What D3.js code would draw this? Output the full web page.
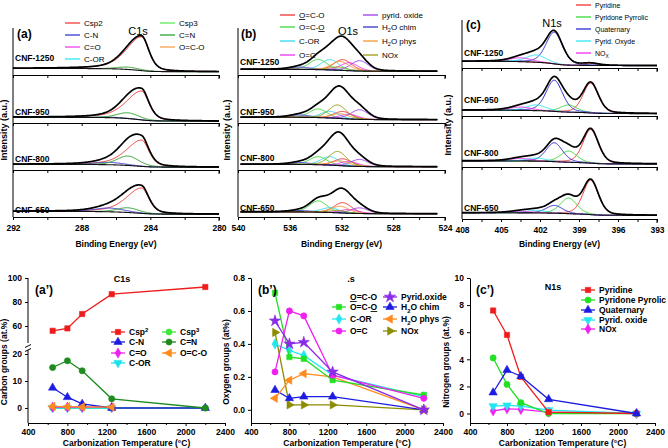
<!DOCTYPE html>
<html><head><meta charset="utf-8">
<script src="https://cdn.jsdelivr.net/npm/d3@7"></script>
<style>body{margin:0;background:#fff}svg{display:block}text{font-family:"Liberation Sans",Arial,sans-serif}</style>
</head><body><svg id="c" width="668" height="448"></svg>
<script>
// ================= DATA =================
const samples = ["CNF-1250", "CNF-950", "CNF-800", "CNF-650"];

// --- C1s spectra (peak parameters) ---
const c1sNames   = ["Csp2", "C-N", "C=O", "C-OR", "Csp3", "C=N", "O=C-O"];
const c1sColors  = ["#f23a3a", "#3838d0", "#f040f0", "#30e8f0", "#5ee85e", "#2f9f2f", "#f8a050"];
const c1sCenters = [284.5, 286.4, 287.8, 286.0, 285.2, 285.3, 289.0];
const c1sHwLow   = [0.5, 1.0, 0.8, 0.8, 0.8, 0.75, 0.8];
const c1sHwHigh  = [1.05, 1.0, 0.8, 0.8, 0.8, 0.75, 0.8];
const c1sMix     = [0.5, 0.3, 0.3, 0.3, 0.3, 0.3, 0.3];
const c1sHeights = [
  [0.72, 0.00, 0, 0, 0, 0.05, 0],
  [0.60, 0.01, 0, 0, 0, 0.12, 0],
  [0.56, 0.05, 0, 0, 0, 0.20, 0],
  [0.54, 0.08, 0, 0, 0, 0.10, 0]];
const c1sBg = [[0.14, 0.07], [0.12, 0.04], [0.12, 0.06], [0.12, 0.06]];
const c1sLabelTicks = [292, 288, 284, 280];

// --- O1s spectra ---
const o1sNames   = ["~O=C-O", "O=C-~O", "C-OR", "O=C", "pyrid. oxide", "H_2O chim", "H_2O phys", "NOx"];
const o1sColors  = ["#f03434", "#3ad83a", "#30d8f0", "#f030f0", "#9a3cf0", "#3434c8", "#f89a30", "#9a9a10"];
const o1sCenters = [531.9, 533.8, 532.9, 531.4, 530.6, 535.2, 532.1, 532.3];
const o1sHw      = [0.8, 0.8, 0.8, 0.8, 0.8, 0.9, 0.8, 0.8];
const o1sMix     = [0.2, 0.2, 0.2, 0.2, 0.2, 0.2, 0.2, 0.2];
const o1sHeights = [
  [0.23, 0.22, 0.22, 0.17, 0.22, 0.05, 0.19, 0.07],
  [0.15, 0.18, 0.14, 0.10, 0.20, 0.05, 0.10, 0.28],
  [0.15, 0.17, 0.18, 0.10, 0.15, 0.04, 0.10, 0.30],
  [0.22, 0.24, 0.10, 0.08, 0.12, 0.03, 0.14, 0.05]];
const o1sBg = [[0.12, 0.08], [0.12, 0.07], [0.12, 0.07], [0.11, 0.07]];
const o1sLabelTicks = [540, 536, 532, 528, 524];

// --- N1s spectra ---
const n1sNames   = ["Pyridine", "Pyridone Pyrrolic", "Quaternary", "Pyrid. Oxyde", "NO_X"];
const n1sColors  = ["#f03434", "#3ad83a", "#2a2ad0", "#30e8f0", "#f030f0"];
const n1sCenters = [398.1, 399.8, 400.9, 402.3, 403.5];
const n1sHw      = [0.7, 0.75, 0.75, 0.9, 1.0];
const n1sMix     = [0.3, 0.3, 0.3, 0.3, 0.3];
const n1sHeights = [
  [0.04, 0.00, 0.66, 0.15, 0.08],
  [0.62, 0.15, 0.65, 0.12, 0.07],
  [0.66, 0.22, 0.37, 0.06, 0.05],
  [0.66, 0.30, 0.15, 0.05, 0.03]];
const n1sBg = [[0.14, 0.05], [0.12, 0.05], [0.12, 0.06], [0.12, 0.07]];
const n1sLabelTicks = [408, 405, 402, 399, 396, 393];

// --- Composition vs temperature ---
const temps = [650, 800, 950, 1250, 2200];
const xTickLabels = [400, 800, 1200, 1600, 2000, 2400];

const cCsp2 = [56, 58, 70, 86.5, 92.5];
const cCsp3 = [0, 0, 0, 0, 0];
const cCN   = [7.5, 4, 1.5, 0, 0];
const cCdN  = [15, 17.5, 13.8, 3.4, 0];
const cCO   = [0.3, 0.3, 0.3, 0.3];
const cOCO  = [0.6, 0.5, 0.4, 0.3];
const cCOR  = [0, 0, 0, 0];

const oOCO2  = [0.71, 0.32, 0.31, 0.18, 0.09];
const oCOR   = [0.40, 0.36, 0.33, 0.21, 0.08];
const oOC    = [0.23, 0.60, 0.57, 0.21, 0.07];
const oPyr   = [0.54, 0.40, 0.41, 0.23, 0.0];
const oH2Oc  = [0.12, 0.07, 0.08, 0.08, 0.0];
const oH2Op  = [0.07, 0.18, 0.22, 0.20, 0.0];
const oNOx   = [0.47, 0.03, 0.03, 0.03, 0.0];

const nPyridine = [7.6, 5.8, 2.7, 0.1, 0.0];
const nPyridone = [4.1, 2.15, 0.8, 0.0, 0.0];
const nQuat     = [1.55, 3.2, 2.75, 1.05, 0.0];
const nPyrOx    = [0.55, 0.6, 0.55, 0.25, 0.0];
const nNOx      = [0.2, 0.35, 0.3, 0.1, 0.0];

// ================= DRAWING =================
const svg = d3.select("#c");
const BOLD = "bold";

function rich(sel, str, fs) {
  let i = 0, shift = 0;
  while (i < str.length) {
    let ch = str[i], mode = null;
    if ("_^~".includes(ch)) { mode = ch; ch = str[i + 1]; i += 2; }
    else { let j = i; while (j < str.length && !"_^~".includes(str[j])) j++; ch = str.slice(i, j); i = j; }
    const t = sel.append("tspan").text(ch);
    let dy = 0;
    if (mode === "_") { dy = fs * 0.3; t.attr("font-size", fs * 0.7); }
    else if (mode === "^") { dy = -fs * 0.4; t.attr("font-size", fs * 0.7); }
    if (mode === "~") t.style("text-decoration", "underline");
    t.attr("dy", dy - shift); shift = dy;
  }
}
function txt(x, y, str, fs, opts = {}) {
  const t = svg.append("text").attr("x", x).attr("y", y).attr("font-size", fs)
    .attr("font-weight", opts.w || "normal").attr("text-anchor", opts.a || "start").attr("fill", "#000");
  if (opts.rot) t.attr("transform", `rotate(-90,${x},${y})`);
  rich(t, str, fs);
  return t;
}

function pv(x, c, h, hwL, hwH, m) {
  const w = x > c ? hwH : hwL; const t = (x - c) / w;
  return h * (m / (1 + t * t) + (1 - m) * Math.exp(-Math.LN2 * t * t));
}

function drawSpectra(cfg) {
  const x = d3.scaleLinear().domain(cfg.dom).range([cfg.x0, cfg.x1]);
  const g = svg.append("g");
  const lo = Math.min(...cfg.range), hi = Math.max(...cfg.range);
  const E = d3.range(lo, hi + 1e-9, 0.04);
  const rows = cfg.rows;
  samples.forEach((s, i) => {
    const top = rows[i], bot = rows[i + 1], hp = bot - top;
    const yv = v => bot - v * hp;
    const comps = cfg.names.map((n, k) => E.map(e => pv(e, cfg.centers[k], cfg.heights[i][k], cfg.hwL[k], cfg.hwH[k], cfg.mix[k])));
    const tot = E.map((e, j) => d3.sum(comps, c => c[j]));
    let acc = 0; const cum = tot.map(t => (acc += t));
    const bgv = E.map((e, j) => cfg.bg[i][1] + (cfg.bg[i][0] - cfg.bg[i][1]) * (cum[j] / acc));
    const line = d3.line().x((d, j) => x(E[j])).y(d => yv(d));
    comps.forEach((c, k) => {
      if (cfg.heights[i][k] <= 0) return;
      g.append("path").attr("d", line(c.map((v, j) => v + bgv[j]))).attr("fill", "none")
        .attr("stroke", cfg.colors[k]).attr("stroke-width", 1);
    });
    g.append("path").attr("d", line(bgv)).attr("fill", "none").attr("stroke", "#111").attr("stroke-width", 1.1);
    g.append("path").attr("d", line(tot.map((v, j) => v + bgv[j]))).attr("fill", "none")
      .attr("stroke", "#000").attr("stroke-width", 1.7);
    txt(cfg.x0 + 2, cfg.sampleY[i], s, 8.5, { w: BOLD });
  });
  // axes
  g.append("line").attr("x1", cfg.x0).attr("x2", cfg.x0).attr("y1", rows[0]).attr("y2", rows[4]).attr("stroke", "#000");
  for (let i = 1; i <= 4; i++) {
    const ax = d3.axisBottom(x).tickValues(cfg.ticks).tickSize(3).tickSizeOuter(0)
      .tickFormat(d => (i === 4 && cfg.labelTicks.includes(d)) ? d : "");
    const a = svg.append("g").attr("transform", `translate(0,${rows[i]})`).call(ax);
    a.selectAll("text").attr("font-size", 8.5).attr("font-weight", BOLD).attr("font-family", "Liberation Sans, Arial").attr("dy", "0.9em");
    a.append("line").attr("x1", cfg.x1).attr("x2", cfg.x1).attr("y1", 0).attr("y2", 4).attr("stroke", "#000");
  }
  txt((cfg.x0 + cfg.x1) / 2, 247, "Binding Energy (eV)", 8.5, { w: BOLD, a: "middle" });
  txt(cfg.ylabX, cfg.ylabY, "Intensity (a.u.)", 9, { w: BOLD, a: "middle", rot: true });
  txt(cfg.tagX, cfg.tagY, cfg.tag, 12, { w: BOLD });
  txt(cfg.titleX, cfg.titleY, cfg.title, 11, { a: "middle" });
  // legend
  cfg.names.forEach((n, k) => {
    const col = Math.floor(k / cfg.legRows), row = k % cfg.legRows;
    const lx = cfg.legX[col], ly = cfg.legY[row];
    svg.append("line").attr("x1", lx).attr("x2", lx + 15).attr("y1", ly).attr("y2", ly)
      .attr("stroke", cfg.colors[k]).attr("stroke-width", 1.3);
    txt(lx + 19, ly + 3, n, cfg.legFs);
  });
}

const rowsAB = [28, 75, 123, 170, 217];
drawSpectra({ x0: 13, x1: 219, dom: [292, 280], range: [292, 280], rows: rowsAB,
  names: c1sNames, colors: c1sColors, centers: c1sCenters, hwL: c1sHwLow, hwH: c1sHwHigh, mix: c1sMix,
  heights: c1sHeights, bg: c1sBg, ticks: d3.range(280, 292.01, 2), labelTicks: c1sLabelTicks,
  sampleY: [61, 115, 162, 213], ylabX: 7, ylabY: 130, tag: "(a)", tagX: 17, tagY: 38,
  title: "C1s", titleX: 138, titleY: 35, legRows: 4, legX: [65, 160], legY: [23, 35, 47, 59], legFs: 8 });

drawSpectra({ x0: 238, x1: 445, dom: [540, 524], range: [539.8, 524.6], rows: rowsAB,
  names: o1sNames, colors: o1sColors, centers: o1sCenters, hwL: o1sHw, hwH: o1sHw, mix: o1sMix,
  heights: o1sHeights, bg: o1sBg, ticks: d3.range(524, 540.01, 2), labelTicks: o1sLabelTicks,
  sampleY: [65, 115, 161, 211], ylabX: 230, ylabY: 130, tag: "(b)", tagX: 241, tagY: 38,
  title: "O1s", titleX: 348, titleY: 35, legRows: 4, legX: [280, 363], legY: [15, 27, 41, 55], legFs: 8 });

drawSpectra({ x0: 462, x1: 657, dom: [408, 393], range: [408, 393], rows: [20, 68, 116, 167, 219],
  names: n1sNames, colors: n1sColors, centers: n1sCenters, hwL: n1sHw, hwH: n1sHw, mix: n1sMix,
  heights: n1sHeights, bg: n1sBg, ticks: d3.range(393, 408.01, 1.5), labelTicks: n1sLabelTicks,
  sampleY: [56, 103, 156, 211], ylabX: 451, ylabY: 125, tag: "(c)", tagX: 466, tagY: 29,
  title: "N1s", titleX: 552, titleY: 27, legRows: 5, legX: [576], legY: [5, 17, 29, 41, 53], legFs: 7 });

// ---------- composition panels ----------
const SYM = {
  sq: { t: d3.symbolSquare, s: 28, r: 0 }, ci: { t: d3.symbolCircle, s: 30, r: 0 },
  tu: { t: d3.symbolTriangle, s: 30, r: 0 }, td: { t: d3.symbolTriangle, s: 30, r: 180 },
  tl: { t: d3.symbolTriangle, s: 30, r: -90 }, tr: { t: d3.symbolTriangle, s: 30, r: 90 },
  di: { t: d3.symbolDiamond, s: 30, r: 0 }, st: { t: d3.symbolStar, s: 40, r: 0 } };
function marker(g, cx, cy, sym, color) {
  const S = SYM[sym];
  g.append("path").attr("d", d3.symbol().type(S.t).size(S.s)())
    .attr("transform", `translate(${cx},${cy}) rotate(${S.r})`).attr("fill", color).attr("stroke", color).attr("stroke-width", 0.6);
}

function drawComp(cfg) {
  const x = d3.scaleLinear().domain([400, 2400]).range([cfg.x0, cfg.x1]);
  const g = svg.append("g");
  cfg.series.forEach(s => {
    const y = s.scale || cfg.y;
    const pts = s.vals.map((v, i) => [x(temps[i]), y(v)]);
    g.append("path").attr("d", d3.line()(pts)).attr("fill", "none").attr("stroke", s.color).attr("stroke-width", 1.3);
    pts.forEach(p => marker(g, p[0], p[1], s.sym, s.color));
  });
  // x axis
  const xa = svg.append("g").attr("transform", `translate(0,423)`)
    .call(d3.axisBottom(x).tickValues(xTickLabels).tickSize(3).tickSizeOuter(0).tickFormat(d3.format("d")));
  xa.selectAll("text").attr("font-size", 8.5).attr("font-weight", BOLD).attr("font-family", "Liberation Sans, Arial");
  svg.append("g").attr("transform", `translate(0,423)`)
    .call(d3.axisBottom(x).tickValues(d3.range(600, 2400, 400)).tickSize(2).tickFormat("")).select(".domain").remove();
  txt((cfg.x0 + cfg.x1) / 2, 446, "Carbonization Temperature (°C)", 8.5, { w: BOLD, a: "middle" });
  txt(cfg.ylabX, 362, cfg.ylab, 8.5, { w: BOLD, a: "middle", rot: true });
  txt(cfg.tagX, 294, cfg.tag, 12, { w: BOLD });
  txt(cfg.titleX, cfg.titleY, cfg.title, 9, { w: BOLD, a: "middle" });
  cfg.legend.forEach(L => {
    if (L.color) {
      svg.append("line").attr("x1", L.x).attr("x2", L.x + 14).attr("y1", L.y).attr("y2", L.y)
        .attr("stroke", L.color).attr("stroke-width", 1.3);
      marker(svg, L.x + 7, L.y, L.sym, L.color);
    }
    txt(L.x + 18, L.y + 3, L.name, 8.5, { w: BOLD });
  });
  return x;
}

// (a') with broken y-axis
const yLow = d3.scaleLinear().domain([0, 20]).range([408, 354]);
const yHigh = d3.scaleLinear().domain([60, 100]).range([326, 278]);
const colA = { red: "#ee1c1c", lg: "#3be83b", blue: "#1c1ce0", dg: "#1f8a1f", mag: "#ee22ee", org: "#ff8a1e", cyan: "#1ee0ee" };
const legA = [
  { name: "Csp^2", color: colA.red, sym: "sq", x: 111, y: 332 }, { name: "Csp^3", color: colA.lg, sym: "ci", x: 162, y: 332 },
  { name: "C-N", color: colA.blue, sym: "tu", x: 111, y: 342 }, { name: "C=N", color: colA.dg, sym: "ci", x: 162, y: 342 },
  { name: "C=O", color: colA.mag, sym: "di", x: 111, y: 353 }, { name: "O=C-O", color: colA.org, sym: "tl", x: 162, y: 353 },
  { name: "C-OR", color: colA.cyan, sym: "td", x: 111, y: 363 }];
drawComp({ x0: 28, x1: 225, y: yLow, ylab: "Carbon groups (at.%)", ylabX: 7, tag: "(a’)", tagX: 35,
  title: "C1s", titleX: 122, titleY: 282, legend: legA,
  series: [
    { vals: cCsp3, color: colA.lg, sym: "ci" }, { vals: cCOR, color: colA.cyan, sym: "td" },
    { vals: cCO, color: colA.mag, sym: "di" }, { vals: cCN, color: colA.blue, sym: "tu" },
    { vals: cCdN, color: colA.dg, sym: "ci" }, { vals: cOCO, color: colA.org, sym: "tl" },
    { vals: cCsp2, color: colA.red, sym: "sq", scale: yHigh }] });
// y axis segments
svg.append("line").attr("x1", 28).attr("x2", 28).attr("y1", 423).attr("y2", 350).attr("stroke", "#000");
svg.append("line").attr("x1", 28).attr("x2", 28).attr("y1", 343).attr("y2", 278).attr("stroke", "#000");
[350, 346].forEach(yy => svg.append("line").attr("x1", 25).attr("x2", 31).attr("y1", yy + 1.5).attr("y2", yy - 1.5).attr("stroke", "#000"));
[[yLow, [0, 10, 20]], [yHigh, [60, 80, 100]]].forEach(([sc, tv]) => {
  const a = svg.append("g").attr("transform", "translate(28,0)").call(d3.axisLeft(sc).tickValues(tv).tickSize(3));
  a.select(".domain").remove();
  a.selectAll("text").attr("font-size", 8.5).attr("font-weight", BOLD).attr("font-family", "Liberation Sans, Arial");
});

// (b')
const yB = d3.scaleLinear().domain([-0.08, 0.8]).range([423, 278]);
const colB = { g: "#22e022", cyan: "#22e6f0", mag: "#f020f0", pur: "#8a2be8", blue: "#1c1ce0", org: "#ff8a1e", olive: "#8c8c00" };
drawComp({ x0: 251, x1: 443, y: yB, ylab: "Oxygen groups (at%)", ylabX: 229, tag: "(b’)", tagX: 258,
  title: ".s", titleX: 351, titleY: 282,
  legend: [
    { name: "~O=C-O", x: 332, y: 297 }, { name: "O=C-~O", color: colB.g, sym: "sq", x: 332, y: 307 },
    { name: "C-OR", color: colB.cyan, sym: "di", x: 332, y: 319 }, { name: "O=C", color: colB.mag, sym: "ci", x: 332, y: 331 },
    { name: "Pyrid.oxide", color: colB.pur, sym: "st", x: 383, y: 297 }, { name: "H_2O chim", color: colB.blue, sym: "tu", x: 383, y: 307 },
    { name: "H_2O phys", color: colB.org, sym: "tl", x: 383, y: 319 }, { name: "NOx", color: colB.olive, sym: "tr", x: 383, y: 331 }],
  series: [
    { vals: oNOx, color: colB.olive, sym: "tr" }, { vals: oH2Oc, color: colB.blue, sym: "tu" },
    { vals: oH2Op, color: colB.org, sym: "tl" }, { vals: oCOR, color: colB.cyan, sym: "di" },
    { vals: oOCO2, color: colB.g, sym: "sq" }, { vals: oOC, color: colB.mag, sym: "ci" },
    { vals: oPyr, color: colB.pur, sym: "st" }] });
{
  const a = svg.append("g").attr("transform", "translate(251,0)")
    .call(d3.axisLeft(yB).tickValues([0, 0.2, 0.4, 0.6, 0.8]).tickSize(3).tickSizeOuter(0).tickFormat(d3.format(".1f")));
  a.selectAll("text").attr("font-size", 8.5).attr("font-weight", BOLD).attr("font-family", "Liberation Sans, Arial");
}

// (c')
const yC = d3.scaleLinear().domain([-0.7, 10]).range([423, 278]);
const colC = { red: "#ee1c1c", g: "#22e022", blue: "#1c1ce0", cyan: "#22e6f0", mag: "#f020f0" };
drawComp({ x0: 470, x1: 655, y: yC, ylab: "Nitrogen groups (at.%)", ylabX: 449, tag: "(c’)", tagX: 476,
  title: "N1s", titleX: 553, titleY: 290,
  legend: [
    { name: "Pyridine", color: colC.red, sym: "sq", x: 581, y: 290 },
    { name: "Pyridone Pyrolic", color: colC.g, sym: "ci", x: 581, y: 300 },
    { name: "Quaternary", color: colC.blue, sym: "tu", x: 581, y: 310 },
    { name: "Pyrid. oxide", color: colC.cyan, sym: "td", x: 581, y: 320 },
    { name: "NOx", color: colC.mag, sym: "di", x: 581, y: 329 }],
  series: [
    { vals: nNOx, color: colC.mag, sym: "di" }, { vals: nPyrOx, color: colC.cyan, sym: "td" },
    { vals: nPyridone, color: colC.g, sym: "ci" }, { vals: nPyridine, color: colC.red, sym: "sq" },
    { vals: nQuat, color: colC.blue, sym: "tu" }] });
{
  const a = svg.append("g").attr("transform", "translate(470,0)")
    .call(d3.axisLeft(yC).tickValues([0, 2, 4, 6, 8, 10]).tickSize(3).tickSizeOuter(0));
  a.selectAll("text").attr("font-size", 8.5).attr("font-weight", BOLD).attr("font-family", "Liberation Sans, Arial");
}
</script></body></html>
